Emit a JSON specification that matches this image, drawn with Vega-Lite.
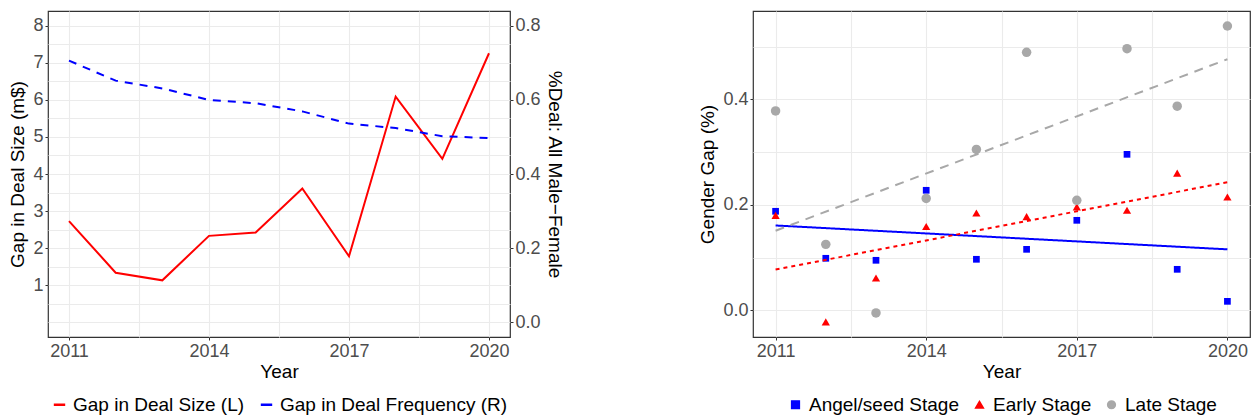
{
  "$schema": "https://vega.github.io/schema/vega-lite/v6.json",
  "padding": {"left": 8, "top": 10, "right": 5, "bottom": 0},
  "background": "white",
  "config": {
    "font": "Liberation Sans",
    "view": {"stroke": "#333333", "strokeWidth": 1.2},
    "axis": {
      "domain": false,
      "labelFont": "Liberation Sans",
      "titleFont": "Liberation Sans",
      "labelFontSize": 18,
      "labelColor": "#4D4D4D",
      "titleFontSize": 19,
      "titleColor": "#000000",
      "titleFontWeight": "normal",
      "tickColor": "#333333",
      "tickSize": 3,
      "labelPadding": 2,
      "titlePadding": 4,
      "gridColor": "#EBEBEB",
      "gridWidth": 1.1
    },
    "legend": {
      "labelFont": "Liberation Sans",
      "labelFontSize": 19,
      "labelColor": "#000000",
      "labelLimit": 0,
      "orient": "bottom",
      "direction": "horizontal",
      "columnPadding": 10,
      "labelOffset": 4,
      "offset": 14,
      "layout": {"anchor": "middle"}
    }
  },
  "datasets": {
    "deal": [
      {"year": 2011, "series": "Gap in Deal Size (L)", "value": 2.73},
      {"year": 2012, "series": "Gap in Deal Size (L)", "value": 1.335},
      {"year": 2013, "series": "Gap in Deal Size (L)", "value": 1.13},
      {"year": 2014, "series": "Gap in Deal Size (L)", "value": 2.33},
      {"year": 2015, "series": "Gap in Deal Size (L)", "value": 2.42},
      {"year": 2016, "series": "Gap in Deal Size (L)", "value": 3.61},
      {"year": 2017, "series": "Gap in Deal Size (L)", "value": 1.78},
      {"year": 2018, "series": "Gap in Deal Size (L)", "value": 6.09},
      {"year": 2019, "series": "Gap in Deal Size (L)", "value": 4.41},
      {"year": 2020, "series": "Gap in Deal Size (L)", "value": 7.26},
      {"year": 2011, "series": "Gap in Deal Frequency (R)", "value": 0.706},
      {"year": 2012, "series": "Gap in Deal Frequency (R)", "value": 0.652},
      {"year": 2013, "series": "Gap in Deal Frequency (R)", "value": 0.631},
      {"year": 2014, "series": "Gap in Deal Frequency (R)", "value": 0.600},
      {"year": 2015, "series": "Gap in Deal Frequency (R)", "value": 0.591},
      {"year": 2016, "series": "Gap in Deal Frequency (R)", "value": 0.569},
      {"year": 2017, "series": "Gap in Deal Frequency (R)", "value": 0.536},
      {"year": 2018, "series": "Gap in Deal Frequency (R)", "value": 0.524},
      {"year": 2019, "series": "Gap in Deal Frequency (R)", "value": 0.502},
      {"year": 2020, "series": "Gap in Deal Frequency (R)", "value": 0.497}
    ],
    "gap": [
      {"year": 2011, "stage": "Angel/seed Stage", "value": 0.1877},
      {"year": 2012, "stage": "Angel/seed Stage", "value": 0.0986},
      {"year": 2013, "stage": "Angel/seed Stage", "value": 0.0948},
      {"year": 2014, "stage": "Angel/seed Stage", "value": 0.2275},
      {"year": 2015, "stage": "Angel/seed Stage", "value": 0.0967},
      {"year": 2016, "stage": "Angel/seed Stage", "value": 0.1156},
      {"year": 2017, "stage": "Angel/seed Stage", "value": 0.1706},
      {"year": 2018, "stage": "Angel/seed Stage", "value": 0.2957},
      {"year": 2019, "stage": "Angel/seed Stage", "value": 0.0777},
      {"year": 2020, "stage": "Angel/seed Stage", "value": 0.017},
      {"year": 2011, "stage": "Early Stage", "value": 0.180},
      {"year": 2012, "stage": "Early Stage", "value": -0.022},
      {"year": 2013, "stage": "Early Stage", "value": 0.0612},
      {"year": 2014, "stage": "Early Stage", "value": 0.159},
      {"year": 2015, "stage": "Early Stage", "value": 0.1845},
      {"year": 2016, "stage": "Early Stage", "value": 0.1775},
      {"year": 2017, "stage": "Early Stage", "value": 0.196},
      {"year": 2018, "stage": "Early Stage", "value": 0.1896},
      {"year": 2019, "stage": "Early Stage", "value": 0.260},
      {"year": 2020, "stage": "Early Stage", "value": 0.2148},
      {"year": 2011, "stage": "Late Stage", "value": 0.378},
      {"year": 2012, "stage": "Late Stage", "value": 0.125},
      {"year": 2013, "stage": "Late Stage", "value": -0.005},
      {"year": 2014, "stage": "Late Stage", "value": 0.212},
      {"year": 2015, "stage": "Late Stage", "value": 0.305},
      {"year": 2016, "stage": "Late Stage", "value": 0.489},
      {"year": 2017, "stage": "Late Stage", "value": 0.2085},
      {"year": 2018, "stage": "Late Stage", "value": 0.496},
      {"year": 2019, "stage": "Late Stage", "value": 0.387},
      {"year": 2020, "stage": "Late Stage", "value": 0.539}
    ]
  },
  "spacing": 134,
  "resolve": {"scale": {"color": "independent", "shape": "independent", "x": "independent", "y": "independent"}, "legend": {"color": "independent", "shape": "independent"}},
  "hconcat": [
    {
      "width": 462,
      "height": 326,
      "data": {"name": "deal"},
      "layer": [
        {
          "transform": [{"filter": "datum.series == 'Gap in Deal Size (L)'"}],
          "mark": {"type": "line", "strokeWidth": 2},
          "encoding": {
            "x": {
              "field": "year", "type": "quantitative",
              "scale": {"domain": [2010.55, 2020.45], "nice": false, "zero": false},
              "axis": {
                "title": "Year",
                "values": [2011, 2012.5, 2014, 2015.5, 2017, 2018.5, 2020],
                "labelExpr": "datum.value % 1 == 0 ? format(datum.value, 'd') : ''",
                "tickOpacity": {"condition": {"test": "datum.value % 1 != 0", "value": 0}, "value": 1},
                "titlePadding": 2
              }
            },
            "y": {
              "field": "value", "type": "quantitative",
              "scale": {"domain": [-0.4, 8.4], "nice": false, "zero": false},
              "axis": {
                "title": "Gap in Deal Size (m$)",
                "values": [0, 0.5, 1, 1.5, 2, 2.5, 3, 3.5, 4, 4.5, 5, 5.5, 6, 6.5, 7, 7.5, 8],
                "labelExpr": "datum.value >= 1 && datum.value % 1 == 0 ? format(datum.value, 'd') : ''",
                "tickOpacity": {"condition": {"test": "datum.value % 1 != 0 || datum.value == 0", "value": 0}, "value": 1},
                "titlePadding": 5
              }
            },
            "color": {
              "field": "series", "type": "nominal",
              "scale": {"domain": ["Gap in Deal Size (L)", "Gap in Deal Frequency (R)"], "range": ["#FF0000", "#0000FF"]},
              "legend": {"title": null, "symbolType": "stroke", "symbolStrokeWidth": 2.5, "symbolSize": 130}
            }
          }
        },
        {
          "transform": [{"filter": "datum.series == 'Gap in Deal Frequency (R)'"}],
          "mark": {"type": "line", "strokeWidth": 2, "strokeDash": [8, 7]},
          "encoding": {
            "x": {"field": "year", "type": "quantitative"},
            "y": {
              "field": "value", "type": "quantitative",
              "scale": {"domain": [-0.04, 0.84], "nice": false, "zero": false},
              "axis": {
                "orient": "right",
                "title": "%Deal: All Male−Female",
                "values": [0, 0.2, 0.4, 0.6, 0.8],
                "format": ".1f",
                "grid": false
              }
            },
            "color": {"field": "series", "type": "nominal"}
          }
        }
      ],
      "resolve": {"scale": {"y": "independent"}}
    },
    {
      "width": 497,
      "height": 326,
      "data": {"name": "gap"},
      "layer": [
        {
          "mark": {"type": "point", "filled": true, "opacity": 1},
          "encoding": {
            "x": {
              "field": "year", "type": "quantitative",
              "scale": {"domain": [2010.55, 2020.45], "nice": false, "zero": false},
              "axis": {
                "title": "Year",
                "values": [2011, 2012.5, 2014, 2015.5, 2017, 2018.5, 2020],
                "labelExpr": "datum.value % 1 == 0 ? format(datum.value, 'd') : ''",
                "tickOpacity": {"condition": {"test": "datum.value % 1 != 0", "value": 0}, "value": 1},
                "titlePadding": 2
              }
            },
            "y": {
              "field": "value", "type": "quantitative",
              "scale": {"domain": [-0.0506, 0.5674], "nice": false, "zero": false},
              "axis": {
                "title": "Gender Gap (%)",
                "values": [0, 0.1, 0.2, 0.3, 0.4, 0.5],
                "labelExpr": "round(datum.value * 10) % 2 == 0 ? format(datum.value, '.1f') : ''",
                "tickOpacity": {"condition": {"test": "round(datum.value * 10) % 2 != 0", "value": 0}, "value": 1},
                "titlePadding": 5
              }
            },
            "color": {
              "field": "stage", "type": "nominal",
              "scale": {"domain": ["Angel/seed Stage", "Early Stage", "Late Stage"], "range": ["#0000FF", "#FF0000", "#A8A8A8"]},
              "legend": {"title": null, "symbolSize": 60}
            },
            "shape": {
              "field": "stage", "type": "nominal",
              "scale": {"domain": ["Angel/seed Stage", "Early Stage", "Late Stage"], "range": ["square", "triangle-up", "circle"]},
              "legend": {"title": null, "symbolSize": 60}
            },
            "size": {
              "field": "stage", "type": "nominal",
              "scale": {"domain": ["Angel/seed Stage", "Early Stage", "Late Stage"], "range": [45, 90, 38]},
              "legend": null
            }
          }
        },
        {
          "transform": [{"regression": "value", "on": "year", "groupby": ["stage"]}],
          "mark": {"type": "line", "strokeWidth": 2},
          "encoding": {
            "x": {"field": "year", "type": "quantitative"},
            "y": {"field": "value", "type": "quantitative"},
            "color": {"field": "stage", "type": "nominal"},
            "strokeDash": {
              "field": "stage", "type": "nominal",
              "scale": {"domain": ["Angel/seed Stage", "Early Stage", "Late Stage"], "range": [[1, 0], [4, 4], [9, 7]]},
              "legend": null
            }
          }
        }
      ]
    }
  ]
}
